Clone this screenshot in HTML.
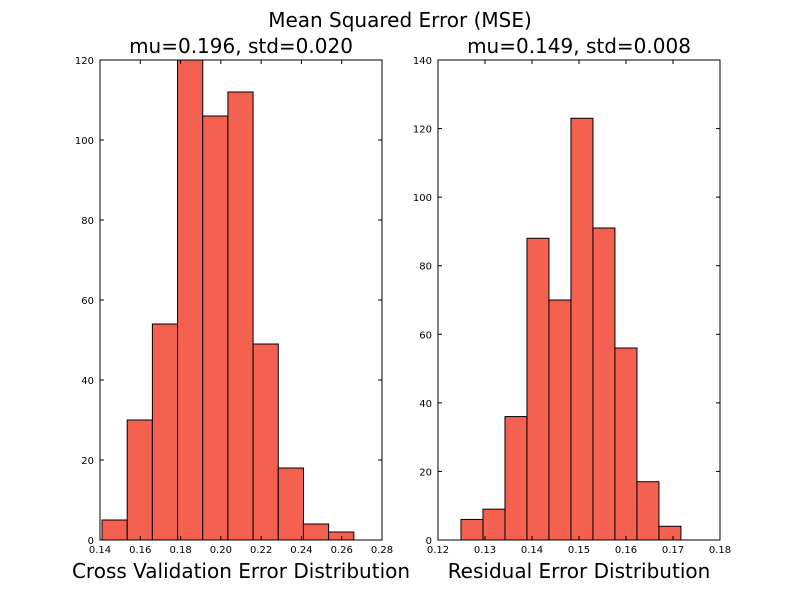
<!DOCTYPE html>
<html><head><meta charset="utf-8"><style>body{margin:0;background:#fff}svg{display:block}</style></head>
<body>
<svg id="c" width="800" height="600" xmlns="http://www.w3.org/2000/svg" font-family="DejaVu Sans, Liberation Sans, sans-serif">
<rect width="800" height="600" fill="#fff"/>
<text x="400" y="27" font-size="20" text-anchor="middle">Mean Squared Error (MSE)</text>
</svg>
<script>
const cvEdgesStart = 0.141, cvBinWidth = 0.0125;
const cvCounts = [5,30,54,120,106,112,49,18,4,2];
const cvXTicks = [0.14,0.16,0.18,0.20,0.22,0.24,0.26,0.28];
const cvYTicks = [0,20,40,60,80,100,120];
const reEdgesStart = 0.12489, reBinWidth = 0.00468;
const reCounts = [6,9,36,88,70,123,91,56,17,4];
const reXTicks = [0.12,0.13,0.14,0.15,0.16,0.17,0.18];
const reYTicks = [0,20,40,60,80,100,120,140];
const NS='http://www.w3.org/2000/svg';
const svg=document.getElementById('c');
function mk(t,a,p){const e=document.createElementNS(NS,t);for(const k in a)e.setAttribute(k,a[k]);(p||svg).appendChild(e);return e;}
function panel(o){
  const g=mk('g',{});
  
  
  const L=o.x0,R=o.x1,T=60,B=540;
  const sx=v=>L+(v-o.xmin)/(o.xmax-o.xmin)*(R-L);
  const sy=v=>B-(v-o.ymin)/(o.ymax-o.ymin)*(B-T);
  const cp=mk('clipPath',{id:'cp'+o.name},g);mk('rect',{x:L,y:T,width:R-L,height:B-T},cp);
  const bg=mk('g',{'clip-path':'url(#cp'+o.name+')'},g);
  o.counts.forEach((c,i)=>{
    const a=o.start+i*o.bw,b=a+o.bw;
    const r=mk('rect',{x:sx(a),y:sy(c),width:sx(b)-sx(a),height:sy(0)-sy(c),fill:'#f46150',stroke:'#000','stroke-width':1},bg);
    
    
  });
  mk('rect',{x:L,y:T,width:R-L,height:B-T,fill:'none',stroke:'#000','stroke-width':1},g);
  o.xt.forEach(v=>{const x=sx(v);
    mk('line',{x1:x,x2:x,y1:B,y2:B-4,stroke:'#000'},g);mk('line',{x1:x,x2:x,y1:T,y2:T+4,stroke:'#000'},g);
    const t=mk('text',{x:x,y:B+13,'font-size':10,'text-anchor':'middle'},g);t.textContent=v.toFixed(2);
    
    });
  o.yt.forEach(v=>{const y=sy(v);
    mk('line',{x1:L,x2:L+4,y1:y,y2:y,stroke:'#000'},g);mk('line',{x1:R,x2:R-4,y1:y,y2:y,stroke:'#000'},g);
    const t=mk('text',{x:L-6,y:y+4,'font-size':10,'text-anchor':'end'},g);t.textContent=v;
    
    });
  const ti=mk('text',{x:(L+R)/2,y:53,'font-size':20,'text-anchor':'middle'},g);ti.textContent=o.title;
  
  
  const xl=mk('text',{x:(L+R)/2,y:578,'font-size':20,'text-anchor':'middle'},g);xl.textContent=o.xlabel;
  
  
}
panel({name:'cv-histogram',x0:100,x1:382,xmin:0.14,xmax:0.28,ymin:0,ymax:120,start:cvEdgesStart,bw:cvBinWidth,counts:cvCounts,xt:cvXTicks,yt:cvYTicks,title:'mu=0.196, std=0.020',xlabel:'Cross Validation Error Distribution'});
panel({name:'residual-histogram',x0:438,x1:720,xmin:0.12,xmax:0.18,ymin:0,ymax:140,start:reEdgesStart,bw:reBinWidth,counts:reCounts,xt:reXTicks,yt:reYTicks,title:'mu=0.149, std=0.008',xlabel:'Residual Error Distribution'});
</script>
</body></html>
